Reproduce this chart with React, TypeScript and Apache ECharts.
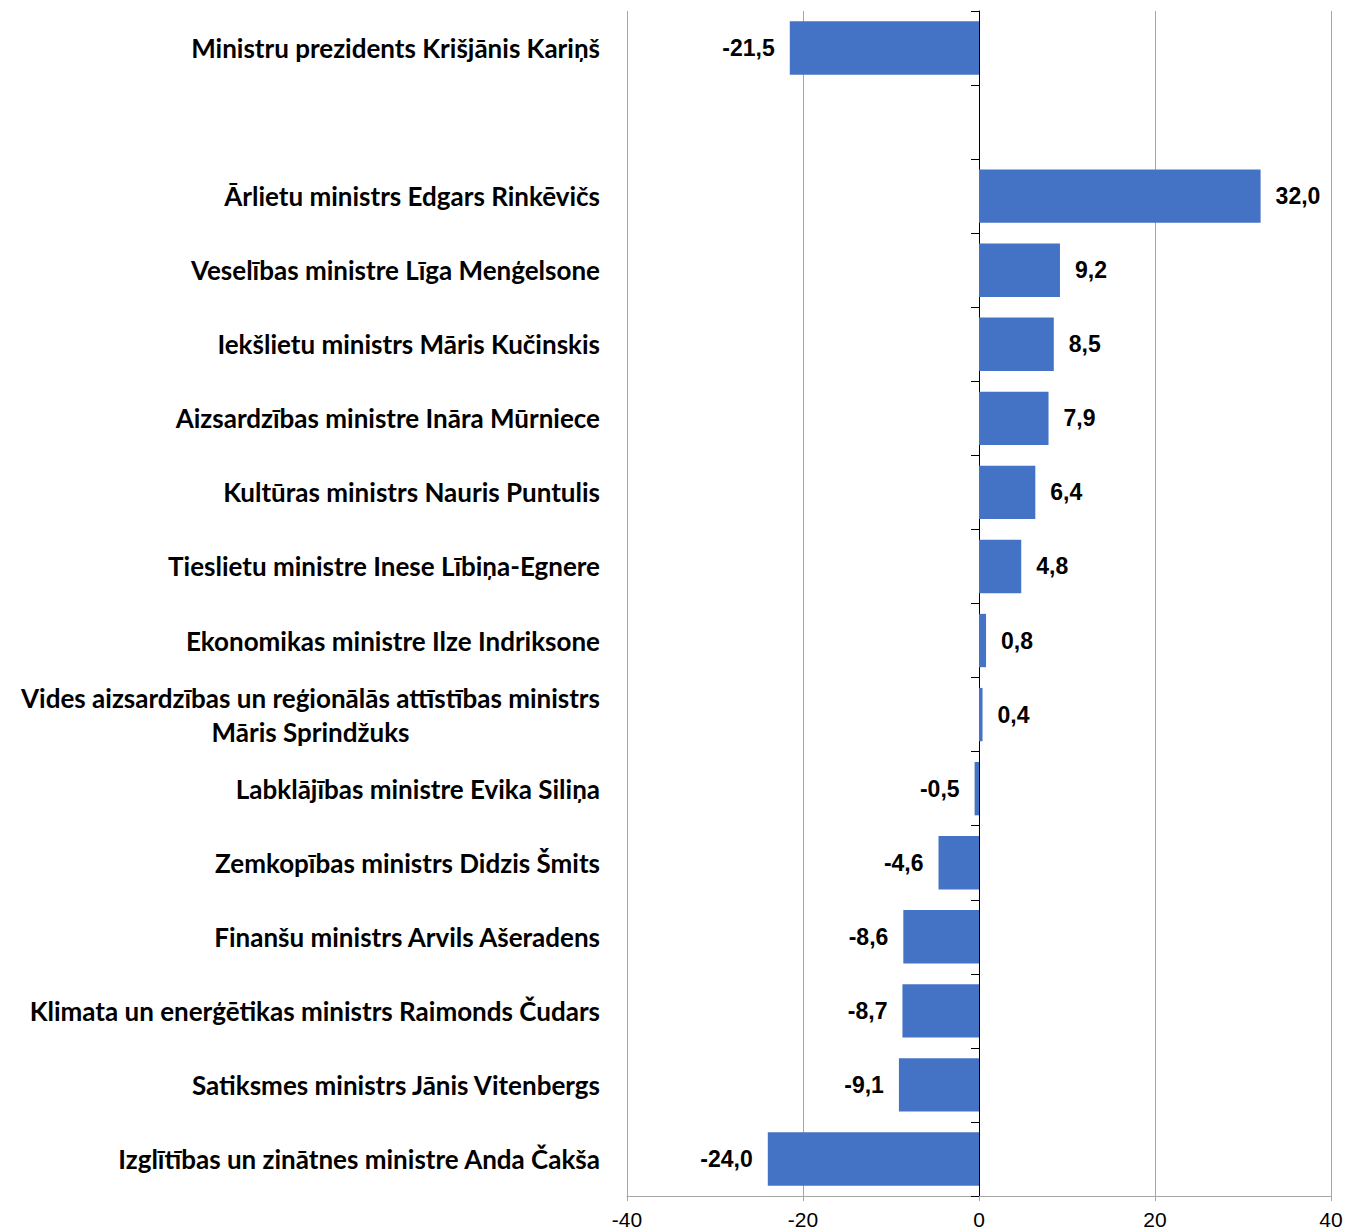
import React, { useEffect, useRef } from "react";
import * as echarts from "echarts";

const categories: string[] = [
  "Ministru prezidents Krišjānis Kariņš",
  "",
  "Ārlietu ministrs Edgars Rinkēvičs",
  "Veselības ministre Līga Menģelsone",
  "Iekšlietu ministrs Māris Kučinskis",
  "Aizsardzības ministre Ināra Mūrniece",
  "Kultūras ministrs Nauris Puntulis",
  "Tieslietu ministre Inese Lībiņa-Egnere",
  "Ekonomikas ministre Ilze Indriksone",
  "Vides aizsardzības un reģionālās attīstības ministrs\nMāris Sprindžuks",
  "Labklājības ministre Evika Siliņa",
  "Zemkopības ministrs Didzis Šmits",
  "Finanšu ministrs Arvils Ašeradens",
  "Klimata un enerģētikas ministrs Raimonds Čudars",
  "Satiksmes ministrs Jānis Vitenbergs",
  "Izglītības un zinātnes ministre Anda Čakša",
];

const values: (number | null)[] = [
  -21.5, null, 32.0, 9.2, 8.5, 7.9, 6.4, 4.8, 0.8, 0.4, -0.5, -4.6, -8.6, -8.7, -9.1, -24.0,
];

const xMin = -40;
const xMax = 40;
const xInterval = 20;

const CAT_FONT = "Lato";
const CAT_SIZE = 26;

export default function App() {
  const ref = useRef<HTMLDivElement>(null);

  useEffect(() => {
    document.body.style.margin = "0";
    if (!ref.current) return;
    const chart = echarts.init(ref.current, undefined, { renderer: "svg" });

    const canvas = document.createElement("canvas");
    const ctx = canvas.getContext("2d");
    let multiW = 590;
    const multi = categories.find((c) => c.includes("\n"));
    if (ctx && multi) {
      ctx.font = `bold ${CAT_SIZE}px ${CAT_FONT}`;
      multiW = Math.ceil(
        Math.max(...multi.split("\n").map((l) => ctx.measureText(l).width))
      );
    }

    const fmt = (v: number) => v.toFixed(1).replace(".", ",");

    const data = values.map((v) =>
      v === null
        ? "-"
        : {
            value: v,
            label: { position: v < 0 ? "left" : "right" },
          }
    );

    chart.setOption({
      animation: false,
      grid: { left: 627, right: 16, top: 11, bottom: 35, containLabel: false },
      xAxis: {
        type: "value",
        min: xMin,
        max: xMax,
        interval: xInterval,
        axisLine: { show: true, onZero: false, lineStyle: { color: "#a6a6a6", width: 1 } },
        axisTick: { show: true, length: 5, lineStyle: { color: "#a6a6a6" } },
        splitLine: { show: true, lineStyle: { color: "#a6a6a6", width: 1 } },
        axisLabel: {
          fontFamily: "Liberation Sans, Arial, sans-serif",
          fontSize: 21,
          color: "#000",
          margin: 13,
        },
      },
      yAxis: [
        {
          type: "category",
          data: categories,
          inverse: true,
          position: "left",
          axisLine: { show: false },
          axisTick: { show: false },
          splitLine: { show: false },
          axisLabel: {
            interval: 0,
            margin: 27,
            fontFamily: CAT_FONT,
            fontWeight: "bold",
            fontSize: CAT_SIZE,
            color: "#000",
            formatter: (val: string) =>
              val.includes("\n")
                ? val
                    .split("\n")
                    .map((l) => `{m|${l}}`)
                    .join("\n")
                : val,
            rich: {
              m: {
                width: multiW,
                align: "center",
                fontFamily: CAT_FONT,
                fontWeight: "bold",
                fontSize: CAT_SIZE,
                lineHeight: 34,
                color: "#000",
              },
            },
          },
        },
        {
          type: "category",
          data: categories,
          inverse: true,
          position: "left",
          axisLine: {
            show: true,
            onZero: true,
            onZeroAxisIndex: 0,
            lineStyle: { color: "#000", width: 1 },
          },
          axisTick: { show: true, inside: false, length: 8, lineStyle: { color: "#000" } },
          axisLabel: { show: false },
          splitLine: { show: false },
        },
      ],
      series: [
        {
          type: "bar",
          data,
          yAxisIndex: 0,
          barCategoryGap: "28%",
          itemStyle: { color: "#4472C4" },
          label: {
            show: true,
            distance: 15,
            fontFamily: "Liberation Sans, Arial, sans-serif",
            fontWeight: "bold",
            fontSize: 23,
            color: "#000",
            formatter: (p: any) => fmt(p.value as number),
          },
        },
      ],
    });

    return () => chart.dispose();
  }, []);

  return <div ref={ref} style={{ width: 1347, height: 1231 }} />;
}
